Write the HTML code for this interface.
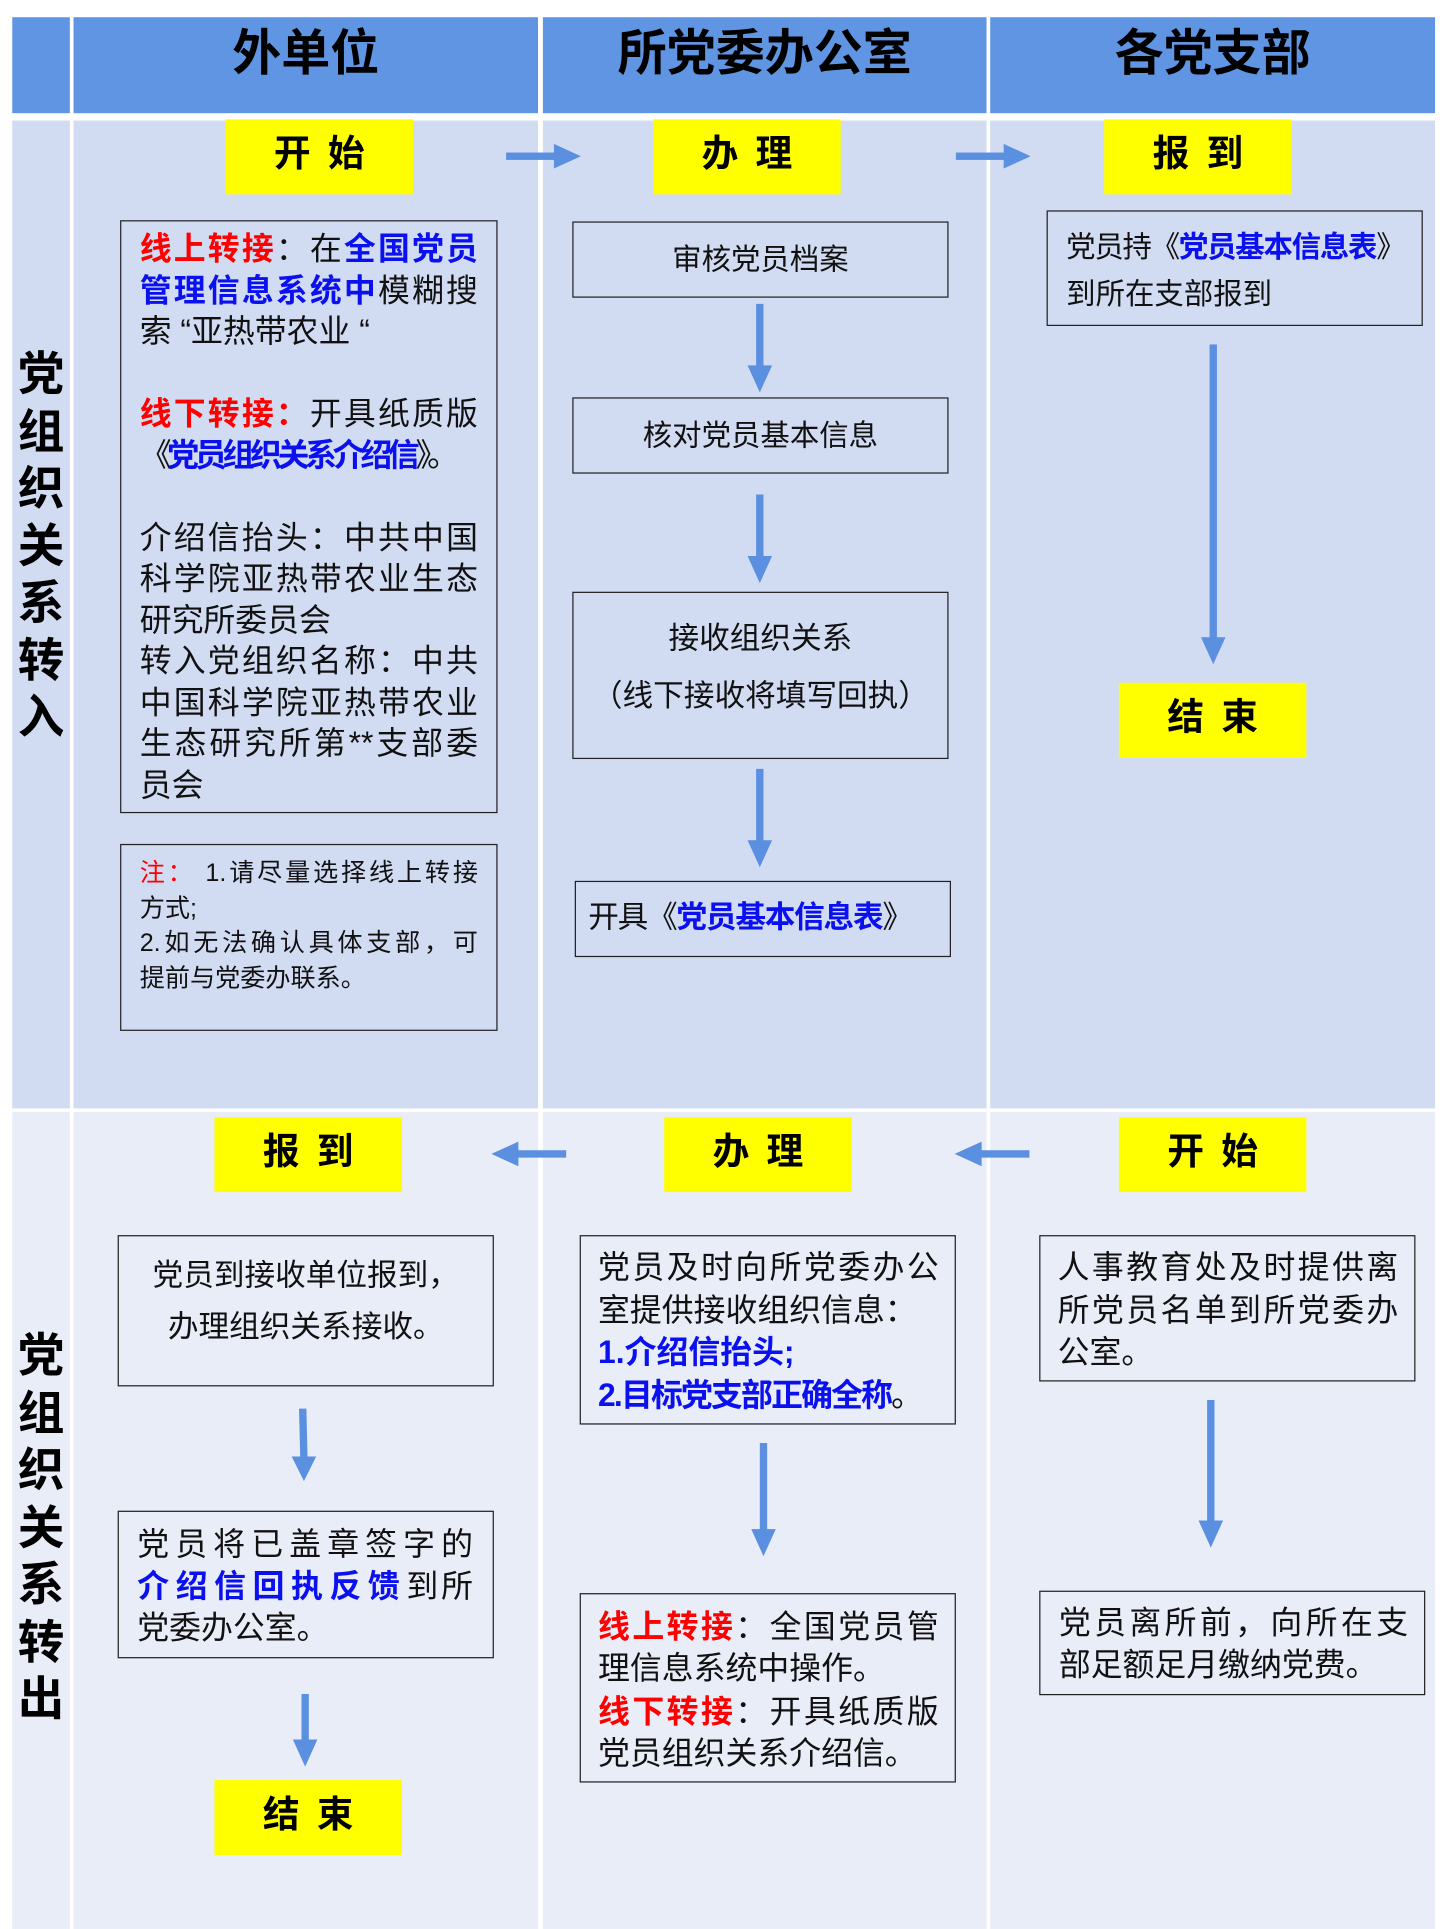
<!DOCTYPE html>
<html><head><meta charset="utf-8"><style>
html,body{margin:0;padding:0;background:#fff;}
body{width:1440px;height:1929px;overflow:hidden;position:relative;}
#c{position:absolute;left:0;top:0;width:1175px;height:1568px;transform:scale(1.2255,1.2302);transform-origin:0 0;font-family:"Liberation Sans","Noto Sans CJK SC",sans-serif;color:#111;}
.a{position:absolute;}
.h{background:#5f95e3;}
.r1{background:#d1dcf3;}
.r2{background:#e9edf8;}
.ht{position:absolute;top:14px;height:78px;line-height:60px;font-size:40px;font-weight:bold;text-align:center;color:#000;}
.y{position:absolute;background:#ffff00;width:153px;height:61px;line-height:58px;text-align:center;font-size:30px;font-weight:bold;letter-spacing:14px;text-indent:14px;color:#000;}
.v{position:absolute;left:10px;width:47px;text-align:center;font-size:38px;font-weight:bold;line-height:46.5px;color:#000;}
.b{position:absolute;border:1.3px solid #222;box-sizing:border-box;}
.a div{white-space:nowrap;}
.l{text-align:justify;text-align-last:justify;white-space:nowrap;}
.R{color:#ff0000;font-weight:bold;}
.B{color:#0a10ee;font-weight:bold;}
</style></head><body><div id="c">
<div class="a h" style="left:10px;top:14px;width:47px;height:78px"></div>
<div class="a h" style="left:60px;top:14px;width:379px;height:78px"></div>
<div class="a h" style="left:443px;top:14px;width:362px;height:78px"></div>
<div class="a h" style="left:808px;top:14px;width:363px;height:78px"></div>
<div class="ht" style="left:60px;width:379px">外单位</div>
<div class="ht" style="left:443px;width:362px">所党委办公室</div>
<div class="ht" style="left:808px;width:363px">各党支部</div>
<div class="a r1" style="left:10px;top:98px;width:47px;height:803px"></div>
<div class="a r1" style="left:60px;top:98px;width:379px;height:803px"></div>
<div class="a r1" style="left:443px;top:98px;width:362px;height:803px"></div>
<div class="a r1" style="left:808px;top:98px;width:363px;height:803px"></div>
<div class="a r2" style="left:10px;top:904px;width:47px;height:664px"></div>
<div class="a r2" style="left:60px;top:904px;width:379px;height:664px"></div>
<div class="a r2" style="left:443px;top:904px;width:362px;height:664px"></div>
<div class="a r2" style="left:808px;top:904px;width:363px;height:664px"></div>
<div class="v" style="top:282px">党<br>组<br>织<br>关<br>系<br>转<br>入</div>
<div class="v" style="top:1080px">党<br>组<br>织<br>关<br>系<br>转<br>出</div>
<div class="y" style="left:184px;top:97px">开始</div>
<div class="y" style="left:533px;top:97px">办理</div>
<div class="y" style="left:901px;top:97px">报到</div>
<div class="y" style="left:913px;top:555px">结束</div>
<div class="y" style="left:175px;top:908px">报到</div>
<div class="y" style="left:542px;top:908px">办理</div>
<div class="y" style="left:913px;top:908px">开始</div>
<div class="y" style="left:175px;top:1447px">结束</div>
<svg class="a" style="left:0;top:0" width="1175" height="1568">
<g fill="#5b8fe0" stroke="none">
<rect x="413" y="124" width="42" height="6"/><polygon points="452,117 474,127 452,137"/>
<rect x="780" y="124" width="42" height="6"/><polygon points="819,117 841,127 819,137"/>
<rect x="420" y="935" width="42" height="6"/><polygon points="423,928 401,938 423,948"/>
<rect x="798" y="935" width="42" height="6"/><polygon points="801,928 779,938 801,948"/>
<rect x="617" y="247" width="6" height="52"/><polygon points="610,297 620,319 630,297"/>
<rect x="617" y="402" width="6" height="52"/><polygon points="610,452 620,474 630,452"/>
<rect x="617" y="625" width="6" height="60"/><polygon points="610,683 620,705 630,683"/>
<rect x="987" y="280" width="6" height="240"/><polygon points="980,518 990,540 1000,518"/>
<polygon points="244,1145 250,1145 251,1186 245,1186"/><polygon points="238,1184 248,1204 258,1184"/>
<polygon points="246,1377 252,1377 252,1416 246,1416"/><polygon points="239,1414 249,1436 259,1414"/>
<rect x="620" y="1173" width="6" height="72"/><polygon points="613,1243 623,1265 633,1243"/>
<rect x="985" y="1138" width="6" height="100"/><polygon points="978,1236 988,1258 998,1236"/>
</g></svg>
<div class="b" style="left:98px;top:179px;width:308px;height:482px"></div>
<div class="a" style="left:114px;top:186px;width:276px;font-size:26px;line-height:33.5px">
<div class="l"><span class="R">线上转接</span>：在<span class="B">全国党员</span></div>
<div class="l"><span class="B">管理信息系统中</span>模糊搜</div>
<div>索 “亚热带农业 “</div>
<div>&nbsp;</div>
<div class="l"><span class="R">线下转接：</span>开具纸质版</div>
<div><span style="letter-spacing:-3.5px">《<span class="B">党员组织关系介绍信</span>》</span>。</div>
<div>&nbsp;</div>
<div class="l">介绍信抬头：中共中国</div>
<div class="l">科学院亚热带农业生态</div>
<div>研究所委员会</div>
<div class="l">转入党组织名称：中共</div>
<div class="l">中国科学院亚热带农业</div>
<div class="l">生态研究所第**支部委</div>
<div>员会</div>
</div>
<div class="b" style="left:98px;top:686px;width:308px;height:152px"></div>
<div class="a" style="left:114px;top:696px;width:276px;font-size:20.5px;line-height:28.5px">
<div class="l"><span style="color:#f00">注：</span> 1.请尽量选择线上转接</div>
<div>方式;</div>
<div class="l">2.如无法确认具体支部，可</div>
<div>提前与党委办联系。</div>
</div>
<div class="b" style="left:467px;top:180px;width:307px;height:62px;text-align:center;line-height:62px;font-size:24px">审核党员档案</div>
<div class="b" style="left:467px;top:323px;width:307px;height:62px;text-align:center;line-height:62px;font-size:24px">核对党员基本信息</div>
<div class="b" style="left:467px;top:481px;width:307px;height:136px;text-align:center;font-size:25px;line-height:47px;padding-top:14px">接收组织关系<br>（线下接收将填写回执）</div>
<div class="b" style="left:469px;top:716px;width:307px;height:62px;line-height:58px;font-size:25px;padding-left:10px;white-space:nowrap"><span style="letter-spacing:-1px">开具《<span class="B">党员基本信息表</span>》</span></div>
<div class="b" style="left:854px;top:171px;width:307px;height:94px;font-size:24px;line-height:38px;padding:11px 0 0 15px;white-space:nowrap"><span style="letter-spacing:-1px">党员持《<span class="B">党员基本信息表</span>》</span><br>到所在支部报到</div>
<div class="b" style="left:96px;top:1004px;width:307px;height:123px;text-align:center;font-size:25px;line-height:42px;padding-top:11px">党员到接收单位报到，<br>办理组织关系接收。</div>
<div class="b" style="left:473px;top:1004px;width:307px;height:154px"></div>
<div class="a" style="left:488px;top:1013px;width:278px;font-size:26px;line-height:34.5px">
<div class="l">党员及时向所党委办公</div>
<div>室提供接收组织信息：</div>
<div class="B">1.介绍信抬头;</div>
<div style="letter-spacing:-1.5px"><span class="B">2.目标党支部正确全称</span>。</div>
</div>
<div class="b" style="left:848px;top:1004px;width:307px;height:119px"></div>
<div class="a" style="left:863px;top:1013px;width:278px;font-size:26px;line-height:34.5px">
<div class="l">人事教育处及时提供离</div>
<div class="l">所党员名单到所党委办</div>
<div>公室。</div>
</div>
<div class="b" style="left:96px;top:1228px;width:307px;height:120px"></div>
<div class="a" style="left:112px;top:1238px;width:274px;font-size:26px;line-height:34px">
<div class="l">党员将已盖章签字的</div>
<div class="l"><span class="B" style="letter-spacing:3px">介绍信回执反馈</span>到所</div>
<div>党委办公室。</div>
</div>
<div class="b" style="left:473px;top:1295px;width:307px;height:154px"></div>
<div class="a" style="left:488px;top:1305px;width:278px;font-size:26px;line-height:34.3px">
<div class="l"><span class="R">线上转接</span>：全国党员管</div>
<div>理信息系统中操作。</div>
<div class="l"><span class="R">线下转接</span>：开具纸质版</div>
<div>党员组织关系介绍信。</div>
</div>
<div class="b" style="left:848px;top:1293px;width:315px;height:85px"></div>
<div class="a" style="left:864px;top:1302px;width:285px;font-size:26px;line-height:34px">
<div class="l">党员离所前，向所在支</div>
<div>部足额足月缴纳党费。</div>
</div>
</div></body></html>
